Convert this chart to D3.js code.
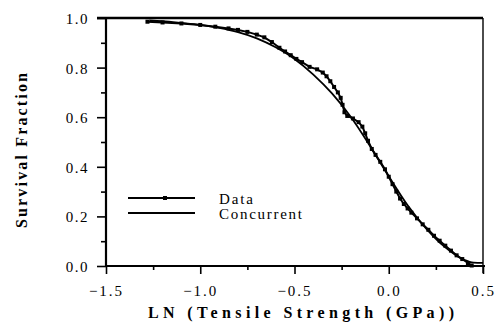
<!DOCTYPE html>
<html>
<head>
<meta charset="utf-8">
<script src="https://cdn.jsdelivr.net/npm/d3@7"></script>
<style>
  body { margin: 0; background: #fff; }
  svg { display: block; }
  text { font-family: "Liberation Serif", "Times New Roman", serif; fill: #000; }
</style>
</head>
<body>
<svg id="chart" width="498" height="324"></svg>
<script>
// survival fraction vs ln(tensile strength)
const dataLnStrength = [-1.28, -1.20, -1.10, -1.00, -0.92, -0.85, -0.80, -0.75, -0.70, -0.66,
  -0.62, -0.58, -0.55, -0.52, -0.49, -0.46, -0.42, -0.38, -0.35, -0.33,
  -0.31, -0.29, -0.27, -0.255, -0.245, -0.235, -0.22, -0.19, -0.16, -0.14,
  -0.125, -0.11, -0.09, -0.07, -0.045, -0.02, 0.00, 0.02, 0.04, 0.06,
  0.08, 0.10, 0.12, 0.15, 0.18, 0.21, 0.24, 0.27, 0.30, 0.33,
  0.36, 0.39, 0.42, 0.44];
const dataSurvival = [0.985, 0.982, 0.978, 0.972, 0.965, 0.958, 0.952, 0.944, 0.933, 0.922,
  0.903, 0.880, 0.865, 0.850, 0.835, 0.822, 0.803, 0.793, 0.780, 0.765,
  0.745, 0.722, 0.700, 0.678, 0.650, 0.620, 0.605, 0.595, 0.580, 0.562,
  0.535, 0.505, 0.472, 0.448, 0.420, 0.390, 0.360, 0.330, 0.300, 0.272,
  0.250, 0.232, 0.215, 0.192, 0.168, 0.146, 0.122, 0.102, 0.082, 0.062,
  0.043, 0.028, 0.012, 0.002];

// smooth "concurrent" model curve
const concLnStrength = [-1.27, -1.2, -1.1, -1.0, -0.9, -0.8, -0.7, -0.6, -0.5, -0.4,
  -0.3, -0.2, -0.1, 0.0, 0.1, 0.2, 0.3, 0.4, 0.45, 0.5];
const concSurvival = [0.990, 0.987, 0.980, 0.972, 0.960, 0.943, 0.918, 0.882, 0.835, 0.772,
  0.695, 0.600, 0.485, 0.362, 0.245, 0.150, 0.075, 0.025, 0.014, 0.013];

const xMajor = [-1.5, -1.0, -0.5, 0.0, 0.5];
const xMinor = [-1.25, -0.75, -0.25, 0.25];
const yMajor = [0.0, 0.2, 0.4, 0.6, 0.8, 1.0];
const yMinor = [0.1, 0.3, 0.5, 0.7, 0.9];

const svg = d3.select('#chart');
const plotLeft = 106, plotRight = 483, plotTop = 18, plotBottom = 266;

const x = d3.scaleLinear().domain([-1.5, 0.5]).range([plotLeft, plotRight]);
const y = d3.scaleLinear().domain([0, 1]).range([plotBottom, plotTop]);

// y axis: major + minor ticks
svg.append('g')
  .attr('transform', `translate(${plotLeft},0)`)
  .call(d3.axisLeft(y).tickValues(yMajor).tickSize(9).tickPadding(8).tickFormat(d3.format('.1f')))
  .call(g => g.select('.domain').remove())
  .call(g => g.selectAll('line').attr('stroke', '#000').attr('stroke-width', 1.6))
  .call(g => g.selectAll('text').attr('font-size', 15).attr('letter-spacing', 1.5)
    .attr('font-family', '"Liberation Serif", serif').attr('dy', '0.36em'));
svg.append('g')
  .attr('transform', `translate(${plotLeft},0)`)
  .call(d3.axisLeft(y).tickValues(yMinor).tickSize(5).tickFormat(''))
  .call(g => g.select('.domain').remove())
  .call(g => g.selectAll('line').attr('stroke', '#000').attr('stroke-width', 1.6));

// x axis
svg.append('g')
  .attr('transform', `translate(0,${plotBottom})`)
  .call(d3.axisBottom(x).tickValues(xMajor).tickSize(8).tickPadding(11).tickFormat(d3.format('.1f')))
  .call(g => g.select('.domain').remove())
  .call(g => g.selectAll('line').attr('stroke', '#000').attr('stroke-width', 1.6))
  .call(g => g.selectAll('text').attr('font-size', 15).attr('letter-spacing', 2)
    .attr('font-family', '"Liberation Serif", serif'));
svg.append('g')
  .attr('transform', `translate(0,${plotBottom})`)
  .call(d3.axisBottom(x).tickValues(xMinor).tickSize(4).tickFormat(''))
  .call(g => g.select('.domain').remove())
  .call(g => g.selectAll('line').attr('stroke', '#000').attr('stroke-width', 1.6));

// frame
svg.append('path')
  .attr('d', `M${plotLeft},${plotTop}V${plotBottom}H${plotRight + 2}`)
  .attr('fill', 'none').attr('stroke', '#000').attr('stroke-width', 2.2);
svg.append('path')
  .attr('d', `M${plotLeft - 9},${plotTop}H${plotRight}`)
  .attr('fill', 'none').attr('stroke', '#000').attr('stroke-width', 2.4);
svg.append('path')
  .attr('d', `M${plotRight},${plotTop}V${plotBottom + 7}`)
  .attr('fill', 'none').attr('stroke', '#000').attr('stroke-width', 1.4);

// concurrent model curve
svg.append('path')
  .datum(d3.zip(concLnStrength, concSurvival))
  .attr('d', d3.line().x(d => x(d[0])).y(d => y(d[1])).curve(d3.curveMonotoneX))
  .attr('fill', 'none').attr('stroke', '#000').attr('stroke-width', 1.8);

// data line with markers
const dataPts = d3.zip(dataLnStrength, dataSurvival);
svg.append('path')
  .datum(dataPts)
  .attr('d', d3.line().x(d => x(d[0])).y(d => y(d[1])))
  .attr('fill', 'none').attr('stroke', '#000').attr('stroke-width', 2);
svg.append('g').selectAll('rect')
  .data(dataPts)
  .join('rect')
  .attr('x', d => x(d[0]) - 2).attr('y', d => y(d[1]) - 2)
  .attr('width', 4).attr('height', 4)
  .attr('fill', '#000');

// legend
const legend = svg.append('g');
legend.append('line').attr('x1', 128).attr('x2', 195).attr('y1', 198).attr('y2', 198)
  .attr('stroke', '#000').attr('stroke-width', 2);
legend.append('rect').attr('x', 163).attr('y', 196).attr('width', 4).attr('height', 4).attr('fill', '#000');
legend.append('line').attr('x1', 128).attr('x2', 195).attr('y1', 213).attr('y2', 213)
  .attr('stroke', '#000').attr('stroke-width', 1.8);
legend.append('text').attr('x', 219).attr('y', 204).attr('font-size', 15)
  .attr('textLength', 34).attr('lengthAdjust', 'spacing').text('Data');
legend.append('text').attr('x', 219).attr('y', 219).attr('font-size', 15)
  .attr('textLength', 83).attr('lengthAdjust', 'spacing').text('Concurrent');

// axis titles
svg.append('text')
  .attr('x', 148).attr('y', 318)
  .attr('font-size', 16).attr('font-weight', 'bold')
  .attr('textLength', 306).attr('lengthAdjust', 'spacing')
  .text('LN (Tensile Strength (GPa))');
svg.append('text')
  .attr('transform', 'translate(27,228) rotate(-90)')
  .attr('font-size', 16).attr('font-weight', 'bold')
  .attr('textLength', 155).attr('lengthAdjust', 'spacing')
  .text('Survival Fraction');
</script>
</body>
</html>
